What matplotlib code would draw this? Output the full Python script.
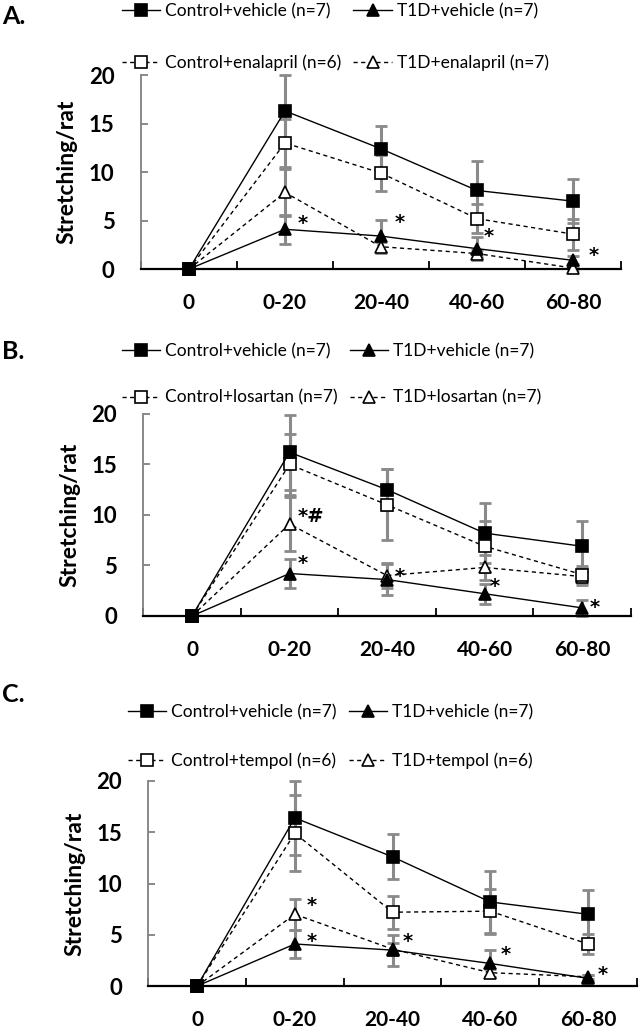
import numpy as np
import matplotlib
matplotlib.use('Agg')
from matplotlib import pyplot as plt
from matplotlib.transforms import offset_copy

plt.rcParams['font.family'] = ['Lato', 'DejaVu Sans']

cats = ['0', '0-20', '20-40', '40-60', '60-80']

# panel A - enalapril
a_ctrl_veh = [0, 16.3, 12.4, 8.1, 7.0]
a_ctrl_veh_err = [0, 3.7, 2.3, 3.0, 2.3]
a_ctrl_drug = [0, 13.0, 9.9, 5.2, 3.6]
a_ctrl_drug_err = [0, 2.5, 1.9, 1.5, 1.6]
a_t1d_veh = [0, 4.1, 3.4, 2.1, 0.9]
a_t1d_veh_err = [0, 1.5, 1.7, 1.2, 0.4]
a_t1d_drug = [0, 7.9, 2.3, 1.6, 0.1]
a_t1d_drug_err = [0, 2.4, 0.5, 0.4, 0.2]
a_labels = ['Control+vehicle (n=7)', 'T1D+vehicle (n=7)',
            'Control+enalapril (n=6)', 'T1D+enalapril (n=7)']
a_stars = [(1.18, 5.0, '*'), (2.19, 5.1, '*'), (3.12, 3.7, '*'), (4.22, 1.7, '*')]

# panel B - losartan
b_ctrl_veh = [0, 16.2, 12.5, 8.2, 6.9]
b_ctrl_veh_err = [0, 3.7, 2.0, 3.0, 2.5]
b_ctrl_drug = [0, 15.0, 11.0, 6.9, 4.1]
b_ctrl_drug_err = [0, 3.0, 3.5, 2.5, 0.8]
b_t1d_veh = [0, 4.2, 3.6, 2.2, 0.8]
b_t1d_veh_err = [0, 1.4, 1.5, 1.0, 0.8]
b_t1d_drug = [0, 9.1, 4.0, 4.8, 3.9]
b_t1d_drug_err = [0, 2.7, 1.2, 1.2, 0.8]
b_labels = ['Control+vehicle (n=7)', 'T1D+vehicle (n=7)',
            'Control+losartan (n=7)', 'T1D+losartan (n=7)']
b_stars = [(1.14, 10.1, '*#'), (1.14, 5.5, '*'), (2.13, 4.2, '*'), (3.10, 3.2, '*'), (4.13, 1.1, '*')]

# panel C - tempol
c_ctrl_veh = [0, 16.4, 12.6, 8.2, 7.0]
c_ctrl_veh_err = [0, 3.6, 2.2, 3.0, 2.4]
c_ctrl_drug = [0, 14.9, 7.2, 7.3, 4.1]
c_ctrl_drug_err = [0, 3.7, 1.6, 2.2, 1.0]
c_t1d_veh = [0, 4.1, 3.5, 2.2, 0.75]
c_t1d_veh_err = [0, 1.4, 1.5, 1.3, 0.3]
c_t1d_drug = [0, 7.0, 3.6, 1.3, 0.9]
c_t1d_drug_err = [0, 1.5, 0.6, 0.4, 0.2]
c_labels = ['Control+vehicle (n=7)', 'T1D+vehicle (n=7)',
            'Control+tempol (n=6)', 'T1D+tempol (n=6)']
c_stars = [(1.17, 8.1, '*'), (1.17, 4.6, '*'), (2.16, 4.6, '*'), (3.16, 3.4, '*'), (4.15, 1.4, '*')]

fig = plt.figure(figsize=(6.4, 10.34), dpi=100)


def panel(rect, series, errs, labels, stars, letter, letter_y, leg_x, leg_y, leg_sp):
    ax = fig.add_axes(rect)
    x = np.arange(len(cats))
    styles = [('s', 'black', '-'), ('s', 'white', '--'), ('^', 'black', '-'), ('^', 'white', '--')]
    for s, e in zip(series, errs):
        ax.errorbar(x, s, yerr=e, fmt='none', ecolor='#8a8a8a', elinewidth=2.2,
                    capsize=4, capthick=2, clip_on=False, zorder=2)
    # dashed (drug) lines first so vehicle markers stay on top
    hd = {}
    for i in [3, 1, 2, 0]:
        m, fc, ls = styles[i]
        h, = ax.plot(x, series[i], marker=m, markerfacecolor=fc, markeredgecolor='black',
                     markeredgewidth=1.2, markersize=9 if m == 's' else 8.5,
                     color='black', linestyle=ls, linewidth=1.0,
                     dashes=(3, 2.5) if ls == '--' else (None, None),
                     clip_on=False, zorder=3 + (1 if fc == 'black' else 0))
        hd[i] = h
    star_tr = offset_copy(ax.transData, fig=fig, y=-3, units='dots')
    for sx, sy, t in stars:
        if t == '*':
            ax.text(sx, sy, t, fontsize=14, fontweight='bold', family='DejaVu Sans',
                    ha='center', va='center', transform=star_tr)
        else:
            ax.text(sx - 0.06, sy, t, fontsize=14, fontweight='bold', family='DejaVu Sans',
                    ha='left', va='center', transform=star_tr)

    ax.set_xlim(-0.5, 4.5)
    ax.set_ylim(0, 20)
    ax.set_yticks([0, 5, 10, 15, 20])
    ax.set_xticks(x)
    ax.set_xticklabels(cats, fontsize=15, fontweight='bold')
    ax.set_xticks(np.arange(-0.5, 5, 1), minor=True)
    ax.tick_params(axis='x', which='major', length=0, pad=17)
    ax.tick_params(axis='x', which='minor', direction='in', length=6, width=1.3)
    ax.tick_params(axis='y', direction='in', length=5, width=1.3, color='#808080',
                   labelsize=16, pad=19)
    for lab in ax.get_yticklabels():
        lab.set_fontweight('bold')
    ax.spines['top'].set_visible(False)
    ax.spines['right'].set_visible(False)
    ax.spines['left'].set_color('#808080')
    ax.spines['left'].set_linewidth(1.3)
    ax.spines['bottom'].set_linewidth(1.6)
    ax.set_ylabel('Stretching/rat', fontsize=16.5, fontweight='bold', labelpad=8)

    fig.legend([hd[0], hd[1], hd[2], hd[3]],
               [labels[0], labels[2], labels[1], labels[3]],
               ncol=2, loc='upper left', bbox_to_anchor=(leg_x, leg_y),
               frameon=False, fontsize=12.5, handlelength=2.2, handletextpad=0.3,
               columnspacing=0.7, labelspacing=leg_sp, borderpad=0, borderaxespad=0)
    fig.text(0.003, letter_y, letter, fontsize=18, fontweight='bold', va='center')
    return ax


panel([0.2203, 0.7398, 0.75, 0.1876],
      [a_ctrl_veh, a_ctrl_drug, a_t1d_veh, a_t1d_drug],
      [a_ctrl_veh_err, a_ctrl_drug_err, a_t1d_veh_err, a_t1d_drug_err],
      a_labels, a_stars, 'A.', 1 - 16 / 1034, 0.19, 1 - 3 / 1034, 2.05)

panel([0.2239, 0.4043, 0.7617, 0.1954],
      [b_ctrl_veh, b_ctrl_drug, b_t1d_veh, b_t1d_drug],
      [b_ctrl_veh_err, b_ctrl_drug_err, b_t1d_veh_err, b_t1d_drug_err],
      b_labels, b_stars, 'B.', 1 - 351 / 1034, 0.19, 1 - 343 / 1034, 1.75)

panel([0.2317, 0.0464, 0.7633, 0.1983],
      [c_ctrl_veh, c_ctrl_drug, c_t1d_veh, c_t1d_drug],
      [c_ctrl_veh_err, c_ctrl_drug_err, c_t1d_veh_err, c_t1d_drug_err],
      c_labels, c_stars, 'C.', 1 - 694 / 1034, 0.2, 1 - 704 / 1034, 1.85)

fig.savefig('out.png', dpi=100)
